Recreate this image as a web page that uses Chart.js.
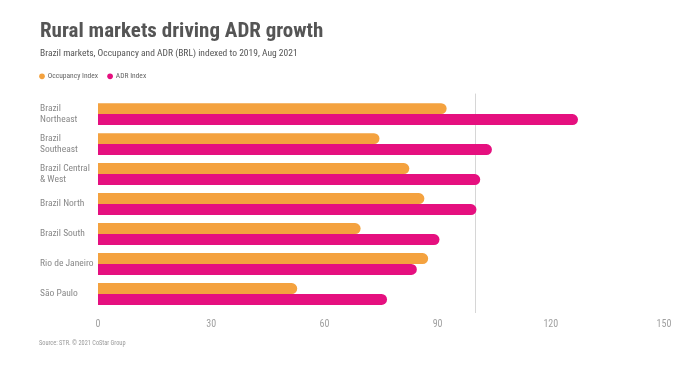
<!DOCTYPE html>
<html>
<head>
<meta charset="utf-8">
<script src="https://cdn.jsdelivr.net/npm/chart.js@4/dist/chart.umd.min.js"></script>
<style>
  html, body { margin: 0; padding: 0; background: #fff; }
  #wrap { position: relative; width: 700px; height: 366px; }
  #source { position: absolute; left: 39px; top: 339px; font: 6.3px "Roboto Condensed", sans-serif; color: #999; white-space: nowrap; }
</style>
</head>
<body>
<div id="wrap">
  <canvas id="c" width="700" height="366"></canvas>
  <div id="source">Source: STR. © 2021 CoStar Group</div>
</div>
<script>
const categories = [
  ['Brazil', 'Northeast'],
  ['Brazil', 'Southeast'],
  ['Brazil Central', '& West'],
  'Brazil North',
  'Brazil South',
  'Rio de Janeiro',
  'São Paulo'
];
const occupancyIndex = [92.4, 74.6, 82.5, 86.5, 69.6, 87.5, 52.8];
const adrIndex = [127.2, 104.4, 101.3, 100.3, 90.5, 84.5, 76.6];
const seriesNames = ['Occupancy Index', 'ADR Index'];
const xTicks = [0, 30, 60, 90, 120, 150];
const referenceValue = 100;

const FONT = '"Roboto Condensed", Roboto, sans-serif';

const refLine = {
  id: 'refLine',
  beforeDatasetsDraw(chart) {
    const x = chart.scales.x.getPixelForValue(referenceValue);
    const ctx = chart.ctx;
    ctx.save();
    ctx.strokeStyle = '#d6d6d6';
    ctx.lineWidth = 1;
    ctx.beginPath();
    ctx.moveTo(Math.round(x) + 0.5, chart.chartArea.top - 5.5);
    ctx.lineTo(Math.round(x) + 0.5, chart.chartArea.bottom + 4);
    ctx.stroke();
    ctx.restore();
  }
};

const legendSpacing = {
  id: 'legendSpacing',
  beforeInit(chart) {
    const legend = chart.legend;
    if (!legend) return;
    const origFit = legend.fit;
    legend.fit = function () {
      origFit.call(this);
      this.height += 9;
    };
  },
  afterLayout(chart) {
    if (chart.legend) chart.legend.left -= 10;
  }
};

new Chart(document.getElementById('c'), {
  type: 'bar',
  data: {
    labels: categories,
    datasets: [
      { label: seriesNames[0], data: occupancyIndex, backgroundColor: '#F4A23F', borderRadius: 6, borderSkipped: 'start' },
      { label: seriesNames[1], data: adrIndex, backgroundColor: '#E5107F', borderRadius: 6, borderSkipped: 'start' }
    ]
  },
  options: {
    indexAxis: 'y',
    responsive: false,
    animation: false,
    layout: { padding: { left: 40, right: 36, top: 0, bottom: 27 } },
    datasets: { bar: { barPercentage: 1, categoryPercentage: 0.73 } },
    scales: {
      x: {
        min: 0, max: 150,
        afterBuildTicks(scale) { scale.ticks = xTicks.map(v => ({ value: v })); },
        grid: { display: false, drawTicks: false },
        border: { display: false },
        ticks: { color: '#a0a0a0', font: { family: FONT, size: 10 }, padding: 9 }
      },
      y: {
        grid: { display: false, drawTicks: false },
        border: { display: false },
        afterFit(scale) { scale.width = 58; },
        ticks: { autoSkip: false, color: '#888', font: { family: FONT, size: 9.5, lineHeight: 1.2 }, crossAlign: 'far', padding: 8 }
      }
    },
    plugins: {
      title: {
        display: true, text: 'Rural markets driving ADR growth', align: 'start',
        color: '#555', font: { family: FONT, size: 21, weight: 'bold', lineHeight: 1.2 },
        padding: { top: 19, bottom: 0 }
      },
      subtitle: {
        display: true, text: 'Brazil markets, Occupancy and ADR (BRL) indexed to 2019, Aug 2021', align: 'start',
        color: '#555', font: { family: FONT, size: 9.5, lineHeight: 1.2 },
        padding: { top: 4, bottom: 3 }
      },
      legend: {
        position: 'top', align: 'start',
        labels: { usePointStyle: true, pointStyle: 'circle', boxWidth: 4, boxHeight: 4, color: '#666', font: { family: FONT, size: 7.5 }, padding: 10 }
      },
      tooltip: { enabled: false }
    }
  },
  plugins: [refLine, legendSpacing]
});
</script>
</body>
</html>
